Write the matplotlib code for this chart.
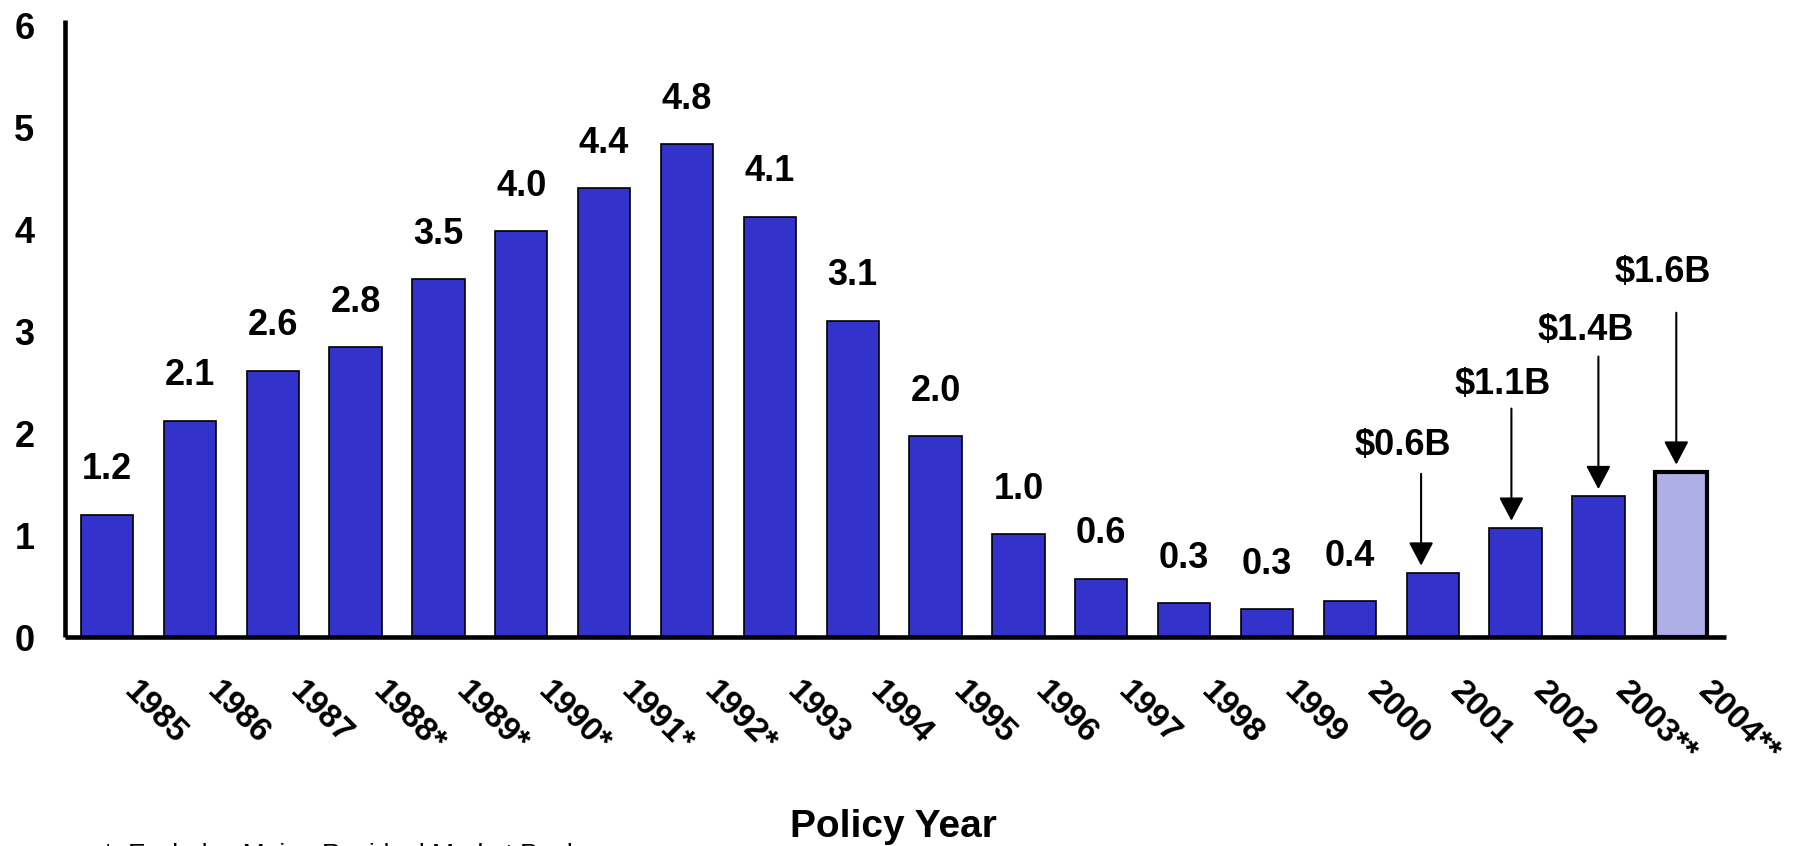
import matplotlib
matplotlib.use("Agg")
import matplotlib.pyplot as plt
import matplotlib.transforms as mtransforms

plt.rcParams['font.family'] = ['Liberation Sans', 'DejaVu Sans']

# ---- data ----
years = ["1985", "1986", "1987", "1988*", "1989*", "1990*", "1991*", "1992*",
         "1993", "1994", "1995", "1996", "1997", "1998", "1999", "2000",
         "2001", "2002", "2003**", "2004**"]
values = [1.20, 2.12, 2.61, 2.84, 3.51, 3.98, 4.40, 4.83, 4.12, 3.10,
          1.97, 1.01, 0.57, 0.33, 0.27, 0.35, 0.63, 1.07, 1.38, 1.62]
value_labels = ["1.2", "2.1", "2.6", "2.8", "3.5", "4.0", "4.4", "4.8", "4.1", "3.1",
                "2.0", "1.0", "0.6", "0.3", "0.3", "0.4", None, None, None, None]
callout_labels = ["$0.6B", "$1.1B", "$1.4B", "$1.6B"]
callout_index = [16, 17, 18, 19]
yticks = [0, 1, 2, 3, 4, 5, 6]
xlabel = "Policy Year"
footnote = "*  Excludes Maine Residual Market Pool"

# ---- figure ----
W, H = 1798, 846
fig = plt.figure(figsize=(W / 100, H / 100), dpi=100)
ax = fig.add_axes([65 / W, 1 - 637 / H, (1726 - 65) / W, (637 - 20) / H])

x = list(range(len(values)))
colors = ["#3333CC"] * (len(values) - 1) + ["#AFAFE8"]
lws = [1.2] * (len(values) - 1) + [3.0]
bars = ax.bar(x, values, width=0.63, color=colors, edgecolor="black", linewidth=lws, zorder=2)

ax.set_xlim(-0.507, 19.54)
ax.set_ylim(0, 6.05)

for s in ["top", "right"]:
    ax.spines[s].set_visible(False)
for s in ["left", "bottom"]:
    ax.spines[s].set_linewidth(3.3)
    ax.spines[s].set_capstyle("butt")

ax.set_yticks(yticks)
ax.set_yticklabels([str(t) for t in yticks], fontsize=26, fontweight="bold")
ax.tick_params(axis="y", length=0, pad=22)

ax.set_xticks(x)
ax.set_xticklabels(years, fontsize=24, fontweight="bold", rotation=-45,
                   ha="left", va="top", rotation_mode="default")
ax.tick_params(axis="x", length=0, pad=28)
offset = mtransforms.ScaledTranslation(11 / 100, 0, fig.dpi_scale_trans)
for lbl in ax.get_xticklabels():
    lbl.set_transform(lbl.get_transform() + offset)

# value labels
for xi, v, lab in zip(x, values, value_labels):
    if lab is not None:
        ax.text(xi, v + 0.44, lab, ha="center", va="center",
                fontsize=26, fontweight="bold")

# callouts with arrows (layout offsets in data units)
text_dx = [-0.36, -0.15, -0.15, -0.22]
text_dy = [1.25, 1.41, 1.63, 1.95]
arrow_dx = [-0.14, -0.05, 0.0, -0.06]
arrow_len = [0.90, 1.10, 1.30, 1.49]
for k, (i, lab) in enumerate(zip(callout_index, callout_labels)):
    v = values[i]
    ax.text(i + text_dx[k], v + text_dy[k], lab, ha="center", va="center",
            fontsize=26, fontweight="bold")
    tip = v + 0.07
    ax.annotate("", xy=(i + arrow_dx[k], tip), xytext=(i + arrow_dx[k], tip + arrow_len[k]),
                arrowprops=dict(arrowstyle="-|>,head_length=0.72,head_width=0.38",
                                mutation_scale=20, lw=1.5, color="black",
                                shrinkA=0, shrinkB=0))

fig.text(893 / W, 1 - 837 / H, xlabel, ha="center", va="baseline",
         fontsize=28, fontweight="bold")
fig.text(103 / W, 1 - 862 / H, footnote, ha="left", va="baseline", fontsize=19)

fig.savefig("out.png", dpi=100)
